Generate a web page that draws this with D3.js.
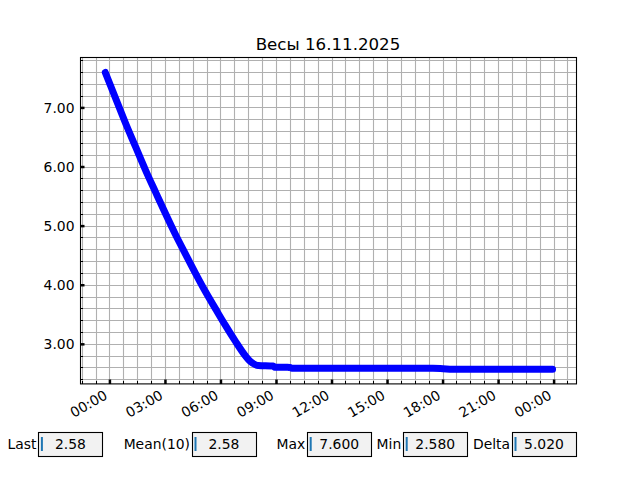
<!DOCTYPE html>
<html>
<head>
<meta charset="utf-8">
<script src="https://cdn.jsdelivr.net/npm/d3@7"></script>
<style>
  body { margin: 0; background: #fff; }
  svg { display: block; font-family: "DejaVu Sans", sans-serif; }
</style>
</head>
<body>
<svg id="chart" width="640" height="480"></svg>
<script>
// ---- data ----
const title = "Весы 16.11.2025";
const times = [
  "2025-11-15 23:45", "2025-11-16 00:18", "2025-11-16 00:50", "2025-11-16 01:23",
  "2025-11-16 01:55", "2025-11-16 02:28", "2025-11-16 03:00", "2025-11-16 03:32",
  "2025-11-16 04:05", "2025-11-16 04:37", "2025-11-16 05:09", "2025-11-16 05:42",
  "2025-11-16 06:14", "2025-11-16 06:46", "2025-11-16 07:19", "2025-11-16 07:35",
  "2025-11-16 07:51", "2025-11-16 08:01", "2025-11-16 08:49", "2025-11-16 08:55",
  "2025-11-16 09:44", "2025-11-16 09:50", "2025-11-16 17:27", "2025-11-16 18:00",
  "2025-11-16 18:30", "2025-11-16 23:55"
];
const values = [
  7.600, 7.168, 6.749, 6.344,
  5.953, 5.575, 5.212, 4.862,
  4.527, 4.205, 3.897, 3.604,
  3.324, 3.058, 2.806, 2.710,
  2.657, 2.642, 2.632, 2.612,
  2.610, 2.596, 2.595, 2.588,
  2.580, 2.580
];
const xDomain = ["2025-11-15 22:23", "2025-11-17 01:11"];
const yMajorTicks = [3, 4, 5, 6, 7];
const statLabels = ["Last", "Mean(10)", "Max", "Min", "Delta"];
const statValues = ["2.58", "2.58", "7.600", "2.580", "5.020"];

(function () {
// ---- layout ----
const W = 640, H = 480;
const axL = 80, axR = 576, axT = 57.6, axB = 384;
const svg = d3.select("#chart");
const parse = d3.timeParse("%Y-%m-%d %H:%M");
const data = times.map((t, i) => ({ t: parse(t), v: values[i] }));

const x = d3.scaleTime().domain(xDomain.map(parse)).range([axL, axR]);
const vmin = d3.min(values), vmax = d3.max(values), pad = (vmax - vmin) * 0.05;
const y = d3.scaleLinear().domain([vmin - pad, vmax + pad]).range([axB, axT]);

const snap = v => Math.round(v - 0.5) + 0.5;

// minor ticks
const x0 = x.domain()[0], x1 = x.domain()[1];
const midnight = parse("2025-11-16 00:00");
const step = 45 * 60 * 1000;
const xMinor = [];
for (let k = Math.ceil((x0 - midnight) / step); midnight.getTime() + k * step <= x1.getTime(); k++) {
  xMinor.push(new Date(midnight.getTime() + k * step));
}
const xMajor = d3.timeHour.every(3).range(x0, x1);
const yMinor = [];
for (let k = Math.ceil(y.domain()[0] / 0.2 - 1e-9); k * 0.2 <= y.domain()[1]; k++) yMinor.push(+(k * 0.2).toFixed(2));

// grid
const grid = svg.append("g").attr("stroke", "#b0b0b0").attr("stroke-width", 1.1);
grid.selectAll(".gx").data(xMinor).join("line")
  .attr("x1", d => snap(x(d))).attr("x2", d => snap(x(d)))
  .attr("y1", axT).attr("y2", axB);
grid.selectAll(".gy").data(yMinor).join("line")
  .attr("y1", d => snap(y(d))).attr("y2", d => snap(y(d)))
  .attr("x1", axL).attr("x2", axR);

// line
const line = d3.line().x(d => x(d.t)).y(d => y(d.v)).curve(d3.curveMonotoneX);
svg.append("path").datum(data)
  .attr("d", line)
  .attr("fill", "none")
  .attr("stroke", "#0000ff")
  .attr("stroke-width", 7)
  .attr("stroke-linecap", "round")
  .attr("stroke-linejoin", "round");

// ticks (inward)
const tk = svg.append("g").attr("stroke", "#000");
tk.selectAll(".mx").data(xMinor).join("line")
  .attr("x1", d => snap(x(d))).attr("x2", d => snap(x(d)))
  .attr("y1", axB).attr("y2", axB - 3).attr("stroke-width", 1);
tk.selectAll(".Mx").data(xMajor).join("line")
  .attr("x1", d => x(d)).attr("x2", d => x(d))
  .attr("y1", axB).attr("y2", axB - 4.5).attr("stroke-width", 2.5);
tk.selectAll(".my").data(yMinor).join("line")
  .attr("y1", d => snap(y(d))).attr("y2", d => snap(y(d)))
  .attr("x1", axL).attr("x2", axL + 3).attr("stroke-width", 1);
tk.selectAll(".My").data(yMajorTicks).join("line")
  .attr("y1", d => y(d)).attr("y2", d => y(d))
  .attr("x1", axL).attr("x2", axL + 4.5).attr("stroke-width", 2.5);

// spines
svg.append("rect")
  .attr("x", snap(axL)).attr("y", snap(axT))
  .attr("width", axR - axL).attr("height", axB - axT)
  .attr("fill", "none").attr("stroke", "#000").attr("stroke-width", 1.1);

// tick labels
const fmt = d3.timeFormat("%H:%M");
svg.append("g").selectAll("text").data(xMajor).join("text")
  .attr("transform", d => `translate(${x(d) - 1.5},${axB + 14}) rotate(-30)`)
  .attr("text-anchor", "end")
  .attr("font-size", 13.9)
  .attr("fill", "#000")
  .text(d => fmt(d));
svg.append("g").selectAll("text").data(yMajorTicks).join("text")
  .attr("x", axL - 5.5).attr("y", d => y(d) + 5)
  .attr("text-anchor", "end")
  .attr("font-size", 13.9)
  .attr("fill", "#000")
  .text(d => d3.format(".2f")(d));

// title
svg.append("text")
  .attr("x", (axL + axR) / 2).attr("y", 49.5)
  .attr("text-anchor", "middle")
  .attr("font-size", 16.67)
  .attr("fill", "#000")
  .text(title);

// text boxes
const boxLefts = [0.06, 0.3, 0.48, 0.63, 0.8].map(f => f * W);
const bw = 0.1 * W, bh = 0.05 * H, by = H - 0.05 * H - bh;
const boxes = svg.append("g").selectAll("g").data(statLabels).join("g");
boxes.append("rect")
  .attr("x", (d, i) => snap(boxLefts[i])).attr("y", snap(by))
  .attr("width", bw).attr("height", bh)
  .attr("fill", "#f2f2f2").attr("stroke", "#000").attr("stroke-width", 1.1);
boxes.append("line")
  .attr("x1", (d, i) => boxLefts[i] + 3.5).attr("x2", (d, i) => boxLefts[i] + 3.5)
  .attr("y1", by + 5).attr("y2", by + bh - 5)
  .attr("stroke", "#1f77b4").attr("stroke-width", 2);
boxes.append("text")
  .attr("x", (d, i) => boxLefts[i] - 2).attr("y", by + bh / 2 + 5)
  .attr("text-anchor", "end").attr("font-size", 13.9).attr("fill", "#000")
  .text(d => d);
boxes.append("text")
  .attr("x", (d, i) => boxLefts[i] + bw / 2).attr("y", by + bh / 2 + 5)
  .attr("text-anchor", "middle").attr("font-size", 13.9).attr("fill", "#000")
  .text((d, i) => statValues[i]);
})();
</script>
</body>
</html>
